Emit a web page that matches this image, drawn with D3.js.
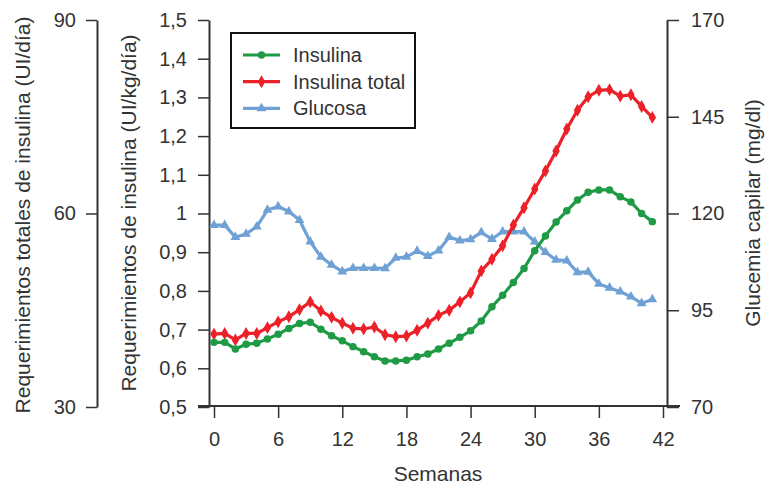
<!DOCTYPE html>
<html>
<head>
<meta charset="utf-8">
<script src="https://cdn.jsdelivr.net/npm/d3@7"></script>
<style>
  html, body { margin: 0; padding: 0; background: #fff; }
  svg { display: block; font-family: "Liberation Sans", Arial, Helvetica, sans-serif; }
</style>
</head>
<body>
<svg id="chart" width="765" height="487"></svg>
<script>
// ---- Data ----
const weeks = d3.range(0, 42);
const insulina = [0.667,0.667,0.650,0.662,0.665,0.676,0.688,0.703,0.716,0.719,0.701,0.684,0.671,0.656,0.643,0.630,0.619,0.619,0.621,0.630,0.637,0.650,0.665,0.680,0.697,0.722,0.759,0.789,0.822,0.858,0.904,0.942,0.978,1.007,1.035,1.055,1.061,1.061,1.043,1.030,1.000,0.979];
const insulinaTotal = [41.3,41.4,40.4,41.4,41.4,42.3,43.2,44.0,45.1,46.3,44.9,43.9,43.0,42.2,42.1,42.4,41.2,40.9,41.0,41.9,43.0,44.2,45.0,46.3,47.7,51.1,52.9,55.0,58.2,60.9,63.8,66.6,69.7,73.1,76.0,78.1,79.1,79.2,78.2,78.4,76.6,74.9];
const glucosa = [117,117,113.9,114.7,116.6,120.9,121.8,120.5,118.3,112.7,108.8,106.7,105,105.9,105.9,105.9,105.8,108.5,108.8,110.3,109,110.4,113.9,113,113.3,115.1,113.4,115.3,115.3,115.3,112.7,110,108,107.8,104.8,104.9,101.8,100.8,99.8,98.5,96.8,97.8];

const xTicks = [0,6,12,18,24,30,36,42];
const yTicks = [0.5,0.6,0.7,0.8,0.9,1.0,1.1,1.2,1.3,1.4,1.5];
const totTicks = [30,60,90];
const gluTicks = [70,95,120,145,170];
const seriesNames = ["Insulina","Insulina total","Glucosa"];
const colors = { green: "#1f9a45", red: "#ec2028", blue: "#6fa1d4" };
const textColor = "#333";

const svg = d3.select("#chart");

// ---- Scales ----
const x = d3.scaleLinear().domain([0,42]).range([214,663]);
const y = d3.scaleLinear().domain([0.5,1.5]).range([407,20]);
const yTot = d3.scaleLinear().domain([30,90]).range([407,20]);
const yGlu = d3.scaleLinear().domain([70,170]).range([407,20]);

const fmtComma = v => (Math.abs(v - Math.round(v)) < 1e-9 ? String(Math.round(v)) : d3.format(".1f")(v).replace(".", ","));

function styleAxis(g) {
  g.select(".domain").attr("stroke", "#333").attr("stroke-width", 2);
  g.selectAll(".tick line").attr("stroke", "#333").attr("stroke-width", 1.5);
  g.selectAll(".tick text").attr("fill", textColor).style("font-size", "20px")
    .style("font-family", '"Liberation Sans", Arial, sans-serif');
}

// Left-most axis (totales)
svg.append("g").attr("transform", "translate(97,0)")
  .call(d3.axisLeft(yTot).tickValues(totTicks).tickSizeInner(11).tickSizeOuter(0).tickPadding(10))
  .call(styleAxis);

// Main left axis
svg.append("g").attr("transform", "translate(209,0)")
  .call(d3.axisLeft(y).tickValues(yTicks).tickFormat(fmtComma).tickSizeInner(11).tickSizeOuter(0).tickPadding(11))
  .call(styleAxis);

// Right axis
svg.append("g").attr("transform", "translate(667,0)")
  .call(d3.axisRight(yGlu).tickValues(gluTicks).tickSizeInner(12).tickSizeOuter(0).tickPadding(12))
  .call(styleAxis);

// Bottom axis
const xg = svg.append("g").attr("transform", "translate(0,406)")
  .call(d3.axisBottom(x).tickValues(xTicks).tickSizeInner(12).tickSizeOuter(0).tickPadding(14))
  .call(styleAxis);
xg.select(".domain").remove();
xg.append("line").attr("x1", 198).attr("x2", 680).attr("y1", 0).attr("y2", 0)
  .attr("stroke", "#333").attr("stroke-width", 2);

// Axis titles
function vTitle(cx, cy, txt) {
  svg.append("text").attr("transform", `translate(${cx},${cy}) rotate(-90)`)
    .attr("text-anchor", "middle").attr("dominant-baseline", "central")
    .attr("fill", textColor).style("font-size", "21px").text(txt);
}
vTitle(22, 215, "Requerimientos totales de insulina (UI/día)");
vTitle(128, 213, "Requerimientos de insulina (UI/kg/día)");
vTitle(752, 213, "Glucemia capilar (mg/dl)");
svg.append("text").attr("x", 438).attr("y", 481).attr("text-anchor", "middle")
  .attr("fill", textColor).style("font-size", "21px").text("Semanas");

// ---- Series ----
function drawSeries(values, yScale, color, marker) {
  const pts = weeks.map((w, i) => [x(w), yScale(values[i])]);
  svg.append("path").datum(pts)
    .attr("d", d3.line())
    .attr("fill", "none").attr("stroke", color).attr("stroke-width", 3.2)
    .attr("stroke-linejoin", "round");
  svg.append("g").selectAll("path").data(pts).join("path")
    .attr("transform", d => `translate(${d[0]},${d[1]})`)
    .attr("d", d3.symbol().type(marker.type).size(marker.size)())
    .attr("fill", color);
}
const mGlu = { type: d3.symbolTriangle, size: 42 };
const mTot = { type: d3.symbolDiamond, size: 48 };
const mIns = { type: d3.symbolCircle, size: 44 };

drawSeries(glucosa, yGlu, colors.blue, mGlu);
drawSeries(insulinaTotal, yTot, colors.red, mTot);
drawSeries(insulina, y, colors.green, mIns);

// ---- Legend ----
const lg = svg.append("g");
lg.append("rect").attr("x", 231).attr("y", 33).attr("width", 184).attr("height", 95)
  .attr("fill", "#fff").attr("stroke", "#111").attr("stroke-width", 2);
const legendItems = [
  { name: seriesNames[0], color: colors.green, m: mIns },
  { name: seriesNames[1], color: colors.red, m: mTot },
  { name: seriesNames[2], color: colors.blue, m: mGlu }
];
legendItems.forEach((it, i) => {
  const cy = 55 + i * 26.7;
  lg.append("line").attr("x1", 243).attr("x2", 280).attr("y1", cy).attr("y2", cy)
    .attr("stroke", it.color).attr("stroke-width", 3.2);
  lg.append("path").attr("transform", `translate(261.5,${cy})`)
    .attr("d", d3.symbol().type(it.m.type).size(it.m.size)()).attr("fill", it.color);
  lg.append("text").attr("x", 293).attr("y", cy).attr("dominant-baseline", "central")
    .attr("fill", textColor).style("font-size", "20px").text(it.name);
});
</script>
</body>
</html>
